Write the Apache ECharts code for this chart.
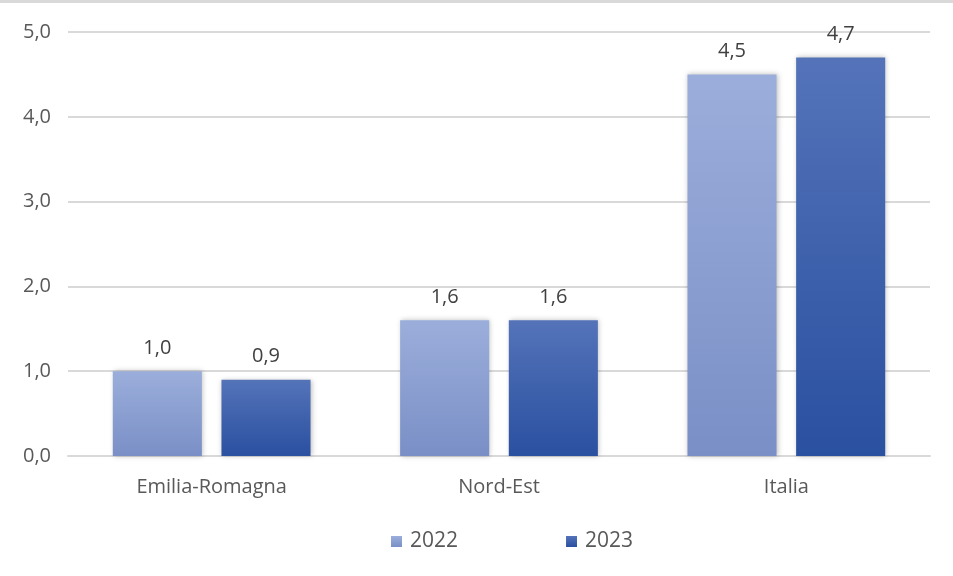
<!DOCTYPE html>
<html>
<head>
<meta charset="utf-8">
<script src="https://cdn.jsdelivr.net/npm/echarts@6/dist/echarts.min.js"></script>
<style>
  html, body {margin: 0; padding: 0; background: #fff;}
  #chart {width: 953px; height: 576px; box-sizing: border-box; border-top: 3px solid #d9d9d9;}
</style>
</head>
<body>
<div id="chart"></div>
<script>
const categories = ['Emilia-Romagna', 'Nord-Est', 'Italia'];
const values2022 = [1.0, 1.6, 4.5];
const values2023 = [0.9, 1.6, 4.7];
const seriesNames = ['2022', '2023'];

const fmt = v => v.toFixed(1).replace('.', ',');
const font = '"Open Sans", "Noto Sans", sans-serif';

const chart = echarts.init(document.getElementById('chart'));

const grad = (top, bottom) => new echarts.graphic.LinearGradient(0, 0, 0, 1, [
  {offset: 0, color: top},
  {offset: 1, color: bottom}
]);

chart.setOption({
  animation: false,
  textStyle: {fontFamily: font},
  grid: {left: 68, right: 23, top: 29, bottom: 120},
  legend: {
    bottom: 19,
    left: 386,
    itemWidth: 11,
    itemHeight: 11,
    itemGap: 108,
    icon: 'rect',
    textStyle: {fontSize: 21, color: '#595959', fontFamily: font, padding: [0, 0, 0, 3]}
  },
  xAxis: {
    type: 'category',
    data: categories,
    axisTick: {show: false},
    axisLine: {lineStyle: {color: '#d9d9d9', width: 2}},
    axisLabel: {fontSize: 20, color: '#595959', margin: 21}
  },
  yAxis: {
    type: 'value',
    min: 0,
    max: 5,
    interval: 1,
    axisLabel: {fontSize: 20, color: '#595959', margin: 17, formatter: fmt},
    splitLine: {lineStyle: {color: '#d9d9d9', width: 2}}
  },
  series: [
    {
      name: seriesNames[0],
      type: 'bar',
      data: values2022,
      barWidth: '31%',
      barGap: '22%',
      itemStyle: {
        color: grad('#9baedb', '#7a8fc6'),
        shadowBlur: 5,
        shadowColor: 'rgba(0,0,0,0.25)',
        shadowOffsetX: 1
      },
      label: {show: true, position: 'top', distance: 13, fontSize: 20, color: '#404040', formatter: p => fmt(p.value)}
    },
    {
      name: seriesNames[1],
      type: 'bar',
      data: values2023,
      barWidth: '31%',
      itemStyle: {
        color: grad('#5473b9', '#2a50a0'),
        shadowBlur: 5,
        shadowColor: 'rgba(0,0,0,0.25)',
        shadowOffsetX: 1
      },
      label: {show: true, position: 'top', distance: 13, fontSize: 20, color: '#404040', formatter: p => fmt(p.value)}
    }
  ]
});
</script>
</body>
</html>
